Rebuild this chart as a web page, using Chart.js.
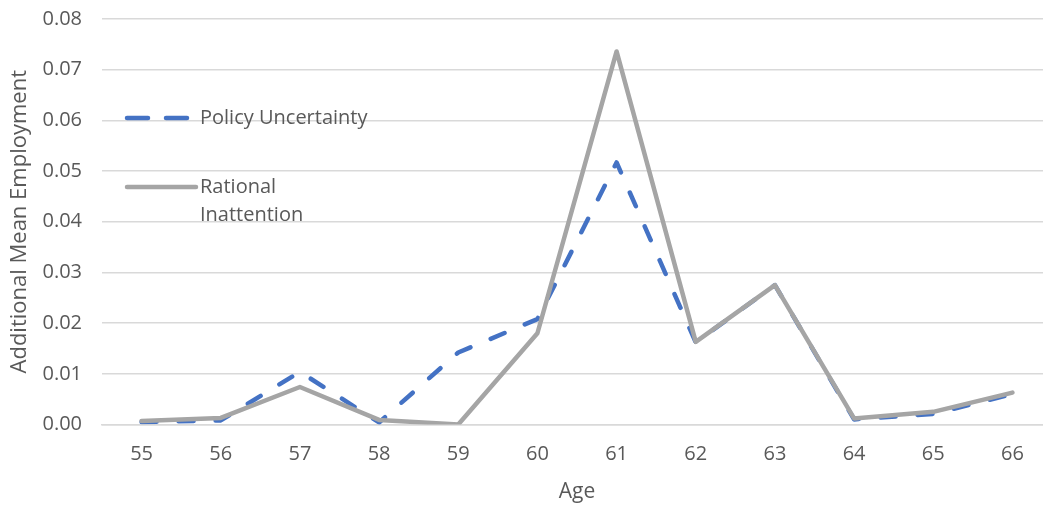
<!DOCTYPE html>
<html>
<head>
<meta charset="utf-8">
<script src="https://cdn.jsdelivr.net/npm/chart.js@4/dist/chart.umd.min.js"></script>
<style>
  html, body { margin: 0; padding: 0; overflow: hidden; background: #fff; width: 1043px; height: 505px; }
  #wrap { position: relative; width: 1052px; height: 505px; }
  canvas { display: block; position: absolute; left: 0; top: -13px; }
  .leg { position: absolute; font-family: 'Open Sans', sans-serif; font-size: 20px; color: #595959; line-height: 28px; white-space: nowrap; }
  svg.ls { position: absolute; }
</style>
</head>
<body>
<div id="wrap">
  <canvas id="c" width="1052" height="518"></canvas>
  <svg class="ls" style="left:120px;top:108px" width="90" height="100">
    <line x1="7" y1="10" x2="28" y2="10" stroke="#4472C4" stroke-width="4.5" stroke-linecap="round"/>
    <line x1="46" y1="10" x2="67" y2="10" stroke="#4472C4" stroke-width="4.5" stroke-linecap="round"/>
    <line x1="7" y1="79" x2="76" y2="79" stroke="#A5A5A5" stroke-width="4.5" stroke-linecap="round"/>
  </svg>
  <div class="leg" style="left:200px;top:103px">Policy Uncertainty</div>
  <div class="leg" style="left:200px;top:172px">Rational<br>Inattention</div>
</div>
<script>
const ages = ['55','56','57','58','59','60','61','62','63','64','65','66'];
const policyUncertainty = [0.0005, 0.0008, 0.0104, 0.0004, 0.0142, 0.0208, 0.0517, 0.0162, 0.0275, 0.0010, 0.0021, 0.0060];
const rationalInattention = [0.0007, 0.0013, 0.0074, 0.0009, 0.0000, 0.0180, 0.0736, 0.0163, 0.0275, 0.0012, 0.0025, 0.0063];
const yTicks = { min: 0, max: 0.08, step: 0.01 };

const FONT = "'Open Sans', sans-serif";
const TXT = '#595959';

new Chart(document.getElementById('c'), {
  type: 'line',
  data: {
    labels: ages,
    datasets: [
      { label: 'Policy Uncertainty', data: policyUncertainty, borderColor: '#4472C4', borderWidth: 4.5,
        borderDash: [15, 22], borderCapStyle: 'round', borderJoinStyle: 'round', pointRadius: 0, tension: 0, order: 2, fill: false },
      { label: 'Rational Inattention', data: rationalInattention, borderColor: '#A5A5A5', borderWidth: 4.5,
        borderJoinStyle: 'round', borderCapStyle: 'round', pointRadius: 0, tension: 0, order: 1, fill: false }
    ]
  },
  options: {
    responsive: false,
    animation: false,
    events: [],
    layout: { padding: { top: 6, left: 0, right: 0, bottom: 0 } },
    plugins: { legend: { display: false }, tooltip: { enabled: false } },
    scales: {
      x: {
        offset: true,
        grid: { display: false, drawTicks: false },
        border: { display: true, color: '#D9D9D9', width: 1.5 },
        ticks: { color: TXT, font: { family: FONT, size: 20 }, padding: 18, maxRotation: 0 },
        title: { display: true, text: 'Age', color: TXT, font: { family: FONT, size: 21 }, padding: { top: 3, bottom: 0 } },
        afterFit: s => { s.height = 80.5; }
      },
      y: {
        min: yTicks.min, max: yTicks.max,
        grid: { color: '#D9D9D9', lineWidth: 1.5, drawTicks: false },
        border: { display: false },
        ticks: { stepSize: yTicks.step, color: TXT, font: { family: FONT, size: 20 }, padding: 20,
                 callback: v => Number(v).toFixed(2) },
        title: { display: true, text: 'Additional Mean Employment', color: TXT, font: { family: FONT, size: 22 }, padding: { top: 7, bottom: 0 } },
        afterFit: s => { s.width = 102; }
      }
    }
  }
});
</script>
</body>
</html>
